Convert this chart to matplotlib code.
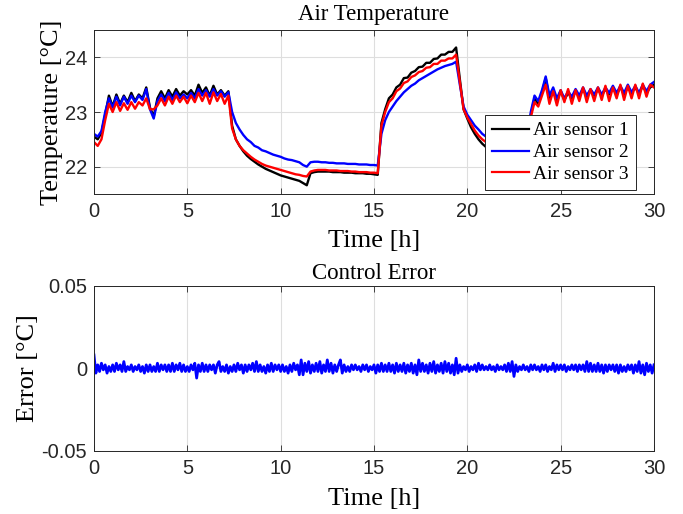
import numpy as np
import matplotlib
matplotlib.use('Agg')
import matplotlib.pyplot as plt

plt.rcParams['axes.unicode_minus'] = False

# time grid of the temperature series, 0.2 h steps
t_temp = np.arange(151) * 0.2

air1 = [
    22.55, 22.50, 22.62, 22.95, 23.30, 23.10, 23.32, 23.15, 23.30, 23.18,
    23.35, 23.20, 23.32, 23.25, 23.45, 23.08, 22.92, 23.25, 23.38, 23.25,
    23.40, 23.28, 23.42, 23.30, 23.38, 23.32, 23.40, 23.30, 23.50, 23.35,
    23.45, 23.30, 23.48, 23.32, 23.40, 23.30, 23.38, 22.75, 22.50, 22.38,
    22.28, 22.20, 22.14, 22.09, 22.04, 22.00, 21.96, 21.93, 21.90, 21.87,
    21.84, 21.82, 21.80, 21.78, 21.76, 21.74, 21.70, 21.66, 21.88, 21.90,
    21.91, 21.91, 21.91, 21.91, 21.90, 21.90, 21.90, 21.89, 21.89, 21.89,
    21.88, 21.88, 21.88, 21.87, 21.87, 21.86, 21.85, 22.80, 23.05, 23.25,
    23.32, 23.45, 23.50, 23.62, 23.63, 23.72, 23.75, 23.82, 23.83, 23.90,
    23.90, 23.97, 23.98, 24.05, 24.05, 24.10, 24.10, 24.18, 23.60, 23.05,
    22.88, 22.72, 22.60, 22.50, 22.42, 22.36, 22.32, 22.28, 22.25, 22.22,
    22.20, 22.18, 22.17, 22.16, 22.15, 22.15, 22.15, 22.95, 23.25, 23.15,
    23.35, 23.62, 23.25, 23.40, 23.20, 23.38, 23.22, 23.35, 23.25, 23.38,
    23.28, 23.42, 23.28, 23.40, 23.30, 23.42, 23.30, 23.42, 23.32, 23.45,
    23.32, 23.45, 23.33, 23.45, 23.35, 23.45, 23.33, 23.48, 23.35, 23.45,
    23.50,
]

air2 = [
    22.60, 22.55, 22.65, 23.00, 23.25, 23.08, 23.28, 23.12, 23.28, 23.15,
    23.30, 23.18, 23.30, 23.22, 23.42, 23.05, 22.88, 23.20, 23.32, 23.20,
    23.35, 23.22, 23.36, 23.25, 23.32, 23.25, 23.35, 23.25, 23.42, 23.30,
    23.40, 23.28, 23.42, 23.30, 23.38, 23.28, 23.36, 23.00, 22.80, 22.68,
    22.58, 22.50, 22.45, 22.38, 22.35, 22.30, 22.28, 22.25, 22.22, 22.20,
    22.18, 22.15, 22.13, 22.12, 22.10, 22.08, 22.03, 22.00, 22.08, 22.09,
    22.09, 22.08, 22.08, 22.07, 22.07, 22.06, 22.06, 22.06, 22.05, 22.05,
    22.05, 22.04, 22.04, 22.04, 22.03, 22.03, 22.02, 22.60, 22.85, 23.00,
    23.10, 23.20, 23.28, 23.36, 23.42, 23.48, 23.52, 23.58, 23.62, 23.66,
    23.70, 23.74, 23.78, 23.81, 23.84, 23.86, 23.88, 23.92, 23.50, 23.10,
    22.95, 22.85, 22.75, 22.68, 22.60, 22.55, 22.50, 22.46, 22.43, 22.40,
    22.38, 22.36, 22.34, 22.33, 22.32, 22.31, 22.30, 23.00, 23.30, 23.20,
    23.40, 23.65, 23.30, 23.45, 23.25, 23.40, 23.25, 23.38, 23.28, 23.42,
    23.30, 23.45, 23.30, 23.42, 23.32, 23.45, 23.32, 23.45, 23.35, 23.48,
    23.35, 23.48, 23.35, 23.50, 23.36, 23.48, 23.35, 23.50, 23.38, 23.50,
    23.55,
]

air3 = [
    22.45, 22.38, 22.50, 22.85, 23.15, 23.00, 23.18, 23.02, 23.16, 23.04,
    23.18, 23.06, 23.18, 23.12, 23.25, 23.05, 23.05, 23.12, 23.25, 23.12,
    23.28, 23.15, 23.30, 23.18, 23.28, 23.16, 23.30, 23.18, 23.35, 23.20,
    23.35, 23.15, 23.36, 23.20, 23.33, 23.15, 23.30, 22.70, 22.50, 22.38,
    22.30, 22.24, 22.18, 22.13, 22.09, 22.05, 22.02, 22.00, 21.98, 21.96,
    21.94, 21.92, 21.90, 21.88, 21.86, 21.85, 21.83, 21.82, 21.91, 21.93,
    21.94, 21.94, 21.94, 21.93, 21.93, 21.93, 21.92, 21.92, 21.92, 21.91,
    21.91, 21.90, 21.90, 21.90, 21.89, 21.89, 21.88, 22.75, 23.00, 23.18,
    23.25, 23.38, 23.43, 23.53, 23.56, 23.64, 23.67, 23.73, 23.75, 23.81,
    23.82, 23.88, 23.88, 23.94, 23.94, 23.98, 23.98, 24.05, 23.55, 23.05,
    22.90, 22.78, 22.66, 22.57, 22.50, 22.45, 22.41, 22.37, 22.34, 22.31,
    22.29, 22.27, 22.26, 22.25, 22.24, 22.24, 22.24, 22.90, 23.18, 23.10,
    23.30, 23.50, 23.15, 23.38, 23.12, 23.40, 23.18, 23.42, 23.15, 23.40,
    23.20, 23.45, 23.18, 23.42, 23.20, 23.45, 23.22, 23.48, 23.20, 23.45,
    23.25, 23.50, 23.22, 23.48, 23.25, 23.50, 23.25, 23.52, 23.28, 23.50,
    23.45,
]

# control error, 0.1 h steps, in milli-degrees
t_err = np.arange(301) * 0.1
err_mk = [
    8, -3, 2, -2, 3, -1, 2, -3, 1, -2,
    2, -2, 3, -1, 2, -2, 4, -2, 1, -1,
    2, -2, 1, -1, 2, -2, 1, -3, 2, -2,
    2, -2, 1, -2, 3, -2, 2, -1, 2, -2,
    2, -2, 3, -2, 2, -1, 3, -2, 2, -2,
    1, -2, 2, -1, 3, -6, 2, -2, 3, -2,
    2, -2, 2, -1, 2, -3, 2, 4, -2, 1,
    -2, 2, -3, 1, -2, 2, -2, 3, -1, 2,
    -3, 2, -2, 2, -1, 3, -2, 4, -2, 2,
    -2, 1, -3, 2, -2, 3, -2, 2, -1, 2,
    -2, 2, -2, 1, -3, 2, -2, 3, -1, 2,
    -4, 5, -4, 3, -2, 4, -3, 2, -2, 3,
    -2, 4, -3, 2, -2, 5, -2, 3, -3, 2,
    -2, 2, 5, -3, 2, -2, 1, -2, 2, -1,
    2, -1, 1, -2, 2, -1, 2, -2, 1, -1,
    2, -3, 2, -2, 3, -2, 2, -2, 3, -2,
    2, -3, 3, -2, 2, -2, 3, -3, 2, -2,
    3, -3, 2, -4, 5, -2, 3, -2, 2, -3,
    3, -2, 4, -3, 2, -2, 3, -3, 4, -2,
    3, -3, 2, -4, 6, -3, 2, -2, 1, -1,
    2, -2, 1, -1, 2, -2, 3, -1, 2, -1,
    1, -1, 2, -1, 1, -2, 2, -1, 1, -1,
    2, -2, 3, -2, 4, -5, 2, -2, 1, -1,
    2, -1, 1, -2, 2, -1, 2, -1, 1, -2,
    2, -1, 2, -2, 1, -1, 3, -2, 2, -1,
    2, -1, 2, -2, 1, -1, 2, -1, 2, -2,
    2, -1, 2, -2, 4, -2, 3, -2, 2, -2,
    3, -2, 2, -3, 2, -2, 2, -1, 2, -2,
    2, -3, 2, -2, 1, -2, 2, -1, 2, -3,
    2, -2, 4, -3, 2, -4, 3, -2, 2, -3,
    2,
]
err = np.array(err_mk) / 1000.0

serif = 'Liberation Serif'
sans = 'Liberation Sans'
dark = '#262626'

fig = plt.figure(figsize=(6.83, 5.14), dpi=100)
ax1 = fig.add_axes([0.1376, 0.6226, 0.8199, 0.3190])
ax2 = fig.add_axes([0.1376, 0.1232, 0.8199, 0.3210])


def style(ax):
    ax.grid(True, color='#dedede', linewidth=0.8)
    ax.set_axisbelow(True)
    ax.tick_params(direction='in', top=True, right=True, colors=dark,
                   labelsize=14.5, length=4, width=0.6)
    ax.tick_params(axis='x', pad=6)
    ax.tick_params(axis='y', pad=5)
    for lab in ax.get_xticklabels() + ax.get_yticklabels():
        lab.set_family(sans)
    for sp in ax.spines.values():
        sp.set_color(dark)
        sp.set_linewidth(0.7)


ax1.plot(t_temp, air1, color='black', lw=1.7, label='Air sensor 1')
ax1.plot(t_temp, air2, color='blue', lw=1.7, label='Air sensor 2')
ax1.plot(t_temp, air3, color='red', lw=1.7, label='Air sensor 3')
ax1.set_xlim(0, 30)
ax1.set_ylim(21.5, 24.5)
ax1.set_xticks([0, 5, 10, 15, 20, 25, 30])
ax1.set_yticks([22, 23, 24])
style(ax1)
ax1.set_title('Air Temperature', family=serif, fontsize=16.5, pad=7)
ax1.set_xlabel('Time [h]', family=serif, fontsize=19, labelpad=6)
ax1.set_ylabel('Temperature [°C]', family=serif, fontsize=19, labelpad=1)
leg = ax1.legend(loc='lower right', bbox_to_anchor=(0.968, 0.024),
                 borderaxespad=0, prop={'family': serif, 'size': 14},
                 frameon=True, fancybox=False, edgecolor=dark, framealpha=1,
                 handlelength=1.9, handletextpad=0.25, borderpad=0.35,
                 labelspacing=0.22)
leg.get_frame().set_linewidth(0.7)
for line in leg.get_lines():
    line.set_linewidth(1.6)

ax2.plot(t_err, err, color='blue', lw=2.0)
ax2.set_xlim(0, 30)
ax2.set_ylim(-0.05, 0.05)
ax2.set_xticks([0, 5, 10, 15, 20, 25, 30])
ax2.set_yticks([-0.05, 0, 0.05])
ax2.set_yticklabels(['-0.05', '0', '0.05'])
style(ax2)
ax2.set_title('Control Error', family=serif, fontsize=16.5, pad=5)
ax2.set_xlabel('Time [h]', family=serif, fontsize=19, labelpad=7)
ax2.set_ylabel('Error [°C]', family=serif, fontsize=19, labelpad=2)

fig.savefig('out.png', dpi=100)
